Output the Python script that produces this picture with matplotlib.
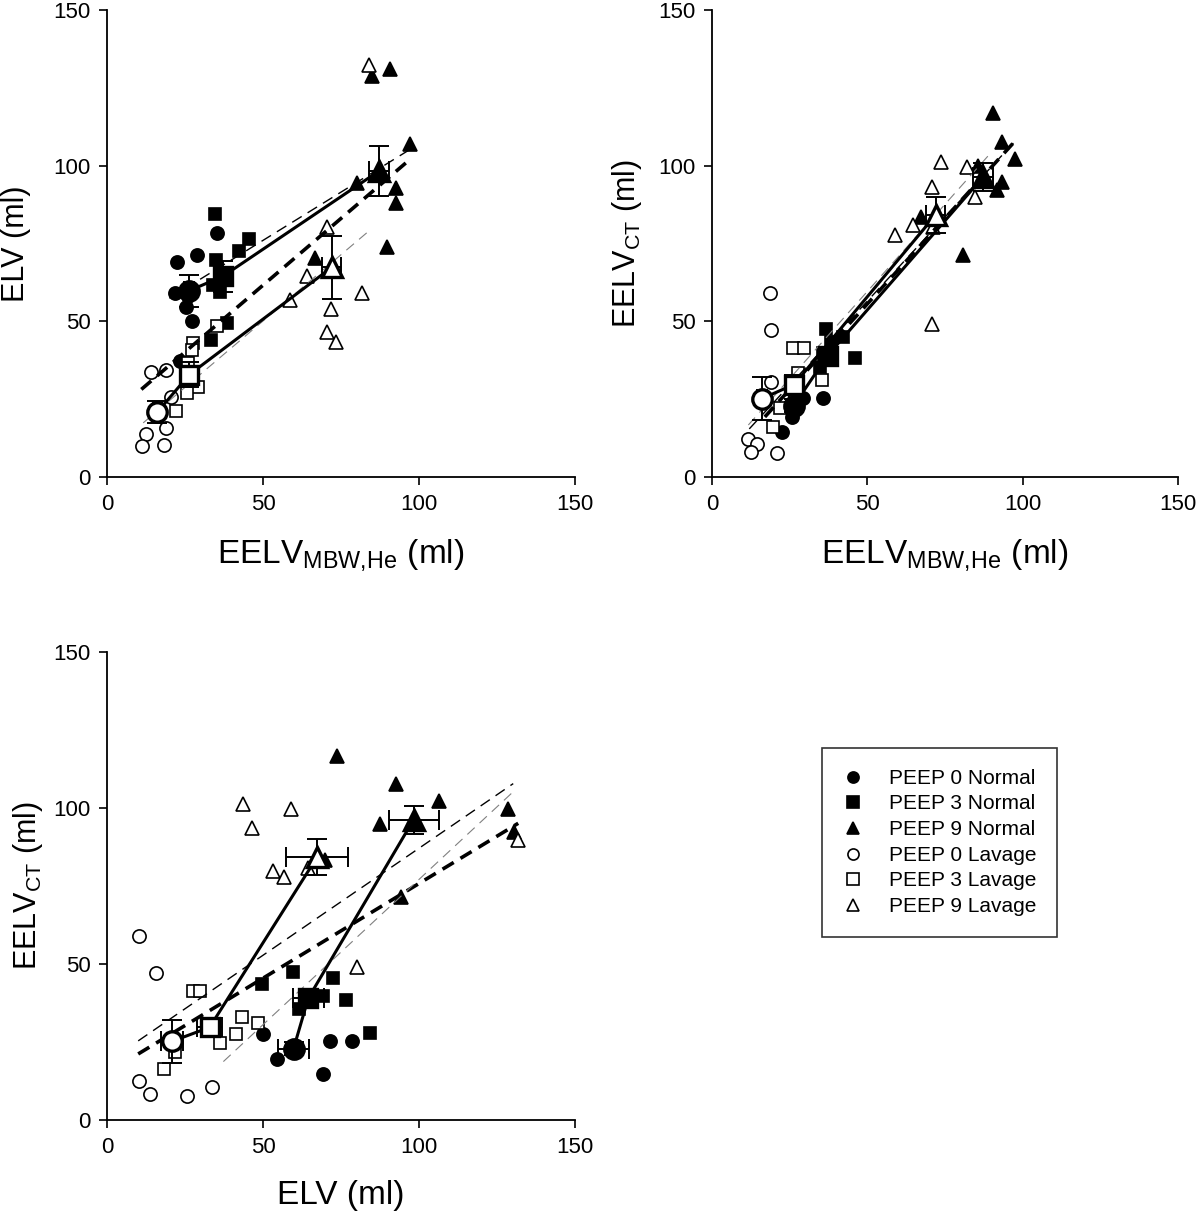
import matplotlib
matplotlib.use("Agg")
import matplotlib.pyplot as plt
from matplotlib.lines import Line2D
import numpy as np

plt.rcParams['font.family'] = ['Liberation Sans', 'DejaVu Sans']
plt.rcParams['mathtext.fontset'] = 'custom'
plt.rcParams['mathtext.rm'] = 'Liberation Sans'
plt.rcParams['mathtext.it'] = 'Liberation Sans:italic'
plt.rcParams['mathtext.bf'] = 'Liberation Sans:bold'

groups = ["PEEP 0 Normal", "PEEP 3 Normal", "PEEP 9 Normal",
          "PEEP 0 Lavage", "PEEP 3 Lavage", "PEEP 9 Lavage"]
markers = ['o', 's', '^', 'o', 's', '^']
filled = [True, True, True, False, False, False]

# panel A: ELV vs EELV MBW,He (individual animals)
tl_x = [[22.3, 28.9, 35.4, 21.8, 25.3, 27.3, 23.4, 26.0],
        [34.6, 45.6, 42.3, 34.8, 38.4, 34.1, 36.2, 38.4, 33.3],
        [90.7, 85.0, 97.1, 80.2, 92.7, 92.7, 89.8, 66.6],
        [14.0, 18.9, 20.5, 18.8, 12.5, 11.2, 18.4],
        [27.5, 27.1, 35.2, 29.3, 25.7, 22.1, 26.1],
        [84.0, 70.4, 64.2, 71.7, 81.6, 70.4, 73.3, 58.7]]
tl_y = [[69.2, 71.3, 78.5, 59.0, 54.7, 50.1, 37.3, 58.0],
        [84.4, 76.4, 72.7, 69.7, 64.9, 61.7, 59.5, 49.6, 44.0],
        [130.9, 128.8, 107.0, 94.5, 92.7, 87.9, 73.8, 70.2],
        [33.7, 34.4, 25.8, 15.8, 13.8, 10.1, 10.3],
        [43.1, 40.8, 48.5, 28.8, 26.9, 21.3, 36.5],
        [132.3, 80.4, 64.6, 53.9, 59.0, 46.7, 43.5, 56.9]]

# panel B: EELV CT vs EELV MBW,He
tr_x = [[22.4, 25.6, 29.4, 35.8, 27.0, 24.5],
        [36.6, 46.1, 42.2, 38.4, 35.8, 38.0, 34.8],
        [90.3, 93.2, 97.5, 85.7, 93.2, 91.6, 80.7, 67.2],
        [18.7, 18.9, 19.0, 11.5, 14.4, 12.5, 20.8],
        [26.2, 29.7, 27.6, 35.3, 21.9, 19.7],
        [73.6, 82.0, 70.9, 64.8, 58.9, 84.6, 70.9, 71.2]]
tr_y = [[14.6, 19.4, 25.3, 25.3, 22.0, 22.5],
        [47.5, 38.1, 45.1, 43.5, 39.7, 38.1, 35.4],
        [116.8, 107.7, 102.2, 99.9, 94.9, 92.2, 71.3, 83.6],
        [59.2, 47.2, 30.6, 12.1, 10.6, 8.1, 7.8],
        [41.3, 41.3, 33.3, 31.2, 22.1, 16.2],
        [101.3, 99.7, 93.3, 81.0, 77.7, 89.8, 49.0, 80.4]]

# panel C: EELV CT vs ELV
bl_x = [[50.1, 54.6, 71.5, 78.4, 69.1],
        [49.6, 59.5, 72.5, 76.6, 64.0, 69.3, 61.6, 84.3],
        [73.6, 92.5, 106.5, 128.6, 87.5, 69.9, 94.1, 130.4],
        [10.4, 15.6, 10.3, 13.8, 25.7, 33.8],
        [27.7, 29.8, 43.2, 48.5, 41.3, 36.2, 21.8, 18.3],
        [43.5, 58.9, 46.4, 53.3, 56.7, 64.5, 80.0, 131.8]]
bl_y = [[27.5, 19.7, 25.3, 25.4, 14.7],
        [43.5, 47.5, 45.4, 38.5, 39.5, 39.7, 35.5, 27.8],
        [116.7, 107.6, 102.2, 99.7, 94.8, 83.3, 71.4, 92.4],
        [59.1, 47.2, 12.5, 8.2, 7.7, 10.7],
        [41.4, 41.4, 32.9, 31.2, 27.6, 24.8, 21.9, 16.2],
        [101.2, 99.6, 93.5, 79.8, 77.8, 80.9, 49.1, 89.7]]

# group means and SEM
mbw_mean = [26.3, 37.2, 87.2, 16.1, 26.4, 72.0]
elv_mean = [59.8, 64.5, 98.3, 20.8, 32.9, 67.3]
ct_mean = [22.9, 39.0, 96.3, 25.2, 29.7, 84.2]
mbw_se = [1.5, 1.5, 3.3, 1.5, 1.5, 3.0]
elv_se = [5.1, 5.0, 8.0, 3.5, 4.0, 10.0]
ct_se = [2.0, 2.5, 4.5, 6.8, 3.0, 5.8]

# regression lines: intercept, slope, x start, x end  (all / normal / lavage)
tl_fits = [[18.7, 0.858, 11.0, 97.0], [45.0, 0.62, 20.0, 97.0], [7.5, 0.852, 11.6, 83.7]]
tr_fits = [[0.6, 1.10, 17.0, 97.0], [2.5, 1.08, 12.0, 97.0], [3.6, 1.12, 11.7, 90.0]]
bl_fits = [[15.1, 0.607, 10.0, 131.8], [18.5, 0.686, 10.0, 130.2], [-16.0, 0.931, 37.3, 130.2]]

fit_styles = [dict(color='black', lw=2.6, dashes=(3.6, 2.2)),
              dict(color='black', lw=1.0, dashes=(8, 5)),
              dict(color='#808080', lw=0.8, dashes=(9, 6))]

msize = {'o': 9.5, 's': 9.0, '^': 10.5}


def draw_panel(ax, xs, ys, fits, mx, my, ex, ey, xlabel, ylabel, ypad):
    for i in range(6):
        fc = 'black' if filled[i] else 'white'
        ax.plot(xs[i], ys[i], ls='none', marker=markers[i], ms=msize[markers[i]],
                mfc=fc, mec='black', mew=1.2, zorder=3)
    for f, st in zip(fits, fit_styles):
        xx = np.array([f[2], f[3]])
        ax.plot(xx, f[0] + f[1] * xx, zorder=4, **st)
    # lines joining group means
    ax.plot(mx[:3], my[:3], color='black', lw=2.2, zorder=5)
    ax.plot(mx[3:], my[3:], color='black', lw=2.2, zorder=5)
    for i in range(6):
        fc = 'black' if filled[i] else 'white'
        ax.errorbar(mx[i], my[i], xerr=ex[i], yerr=ey[i], fmt='none',
                    ecolor='black', elinewidth=1.4, capsize=7, capthick=1.4, zorder=6)
        ax.plot(mx[i], my[i], ls='none', marker=markers[i], ms=msize[markers[i]] + 4.5,
                mfc=fc, mec='black', mew=2.4, zorder=7)
    ax.set_xlim(0, 150)
    ax.set_ylim(0, 150)
    ax.set_xticks([0, 50, 100, 150])
    ax.set_yticks([0, 50, 100, 150])
    ax.spines['top'].set_visible(False)
    ax.spines['right'].set_visible(False)
    ax.spines['left'].set_linewidth(1.3)
    ax.spines['bottom'].set_linewidth(1.3)
    ax.tick_params(direction='out', length=6, width=1.2, labelsize=16, pad=6)
    ax.set_xlabel(xlabel, fontsize=24, labelpad=16)
    ax.set_ylabel(ylabel, fontsize=22, labelpad=ypad)


fig = plt.figure(figsize=(12, 12.24), dpi=100)
ax1 = fig.add_axes([107 / 1200, 1 - 477 / 1224, 468 / 1200, 467 / 1224])
ax2 = fig.add_axes([712 / 1200, 1 - 477 / 1224, 466 / 1200, 467 / 1224])
ax3 = fig.add_axes([107 / 1200, 1 - 1120 / 1224, 468 / 1200, 468 / 1224])

mbw_label = r'EELV$_{\mathrm{MBW,\!He}}$ (ml)'
ct_label = r'EELV$_{\mathrm{CT}}$ (ml)'
draw_panel(ax1, tl_x, tl_y, tl_fits, mbw_mean, elv_mean, mbw_se, elv_se,
           mbw_label, 'ELV (ml)', 16)
draw_panel(ax2, tr_x, tr_y, tr_fits, mbw_mean, ct_mean, mbw_se, ct_se,
           mbw_label, ct_label, 10)
draw_panel(ax3, bl_x, bl_y, bl_fits, elv_mean, ct_mean, elv_se, ct_se,
           'ELV (ml)', ct_label, 6)

handles = [Line2D([], [], ls='none', marker=markers[i], ms=8,
                  mfc='black' if filled[i] else 'white', mec='black', mew=1.2)
           for i in range(6)]
leg = fig.legend(handles, groups, loc='lower left',
                 bbox_to_anchor=(822 / 1200, 1 - 937 / 1224), borderaxespad=0,
                 fontsize=15, frameon=True, fancybox=False, handlelength=1.0,
                 handletextpad=1.2, labelspacing=0.32, borderpad=1.0)
leg.get_frame().set_edgecolor('black')
leg.get_frame().set_linewidth(1.2)

fig.savefig('out.png', dpi=100)
